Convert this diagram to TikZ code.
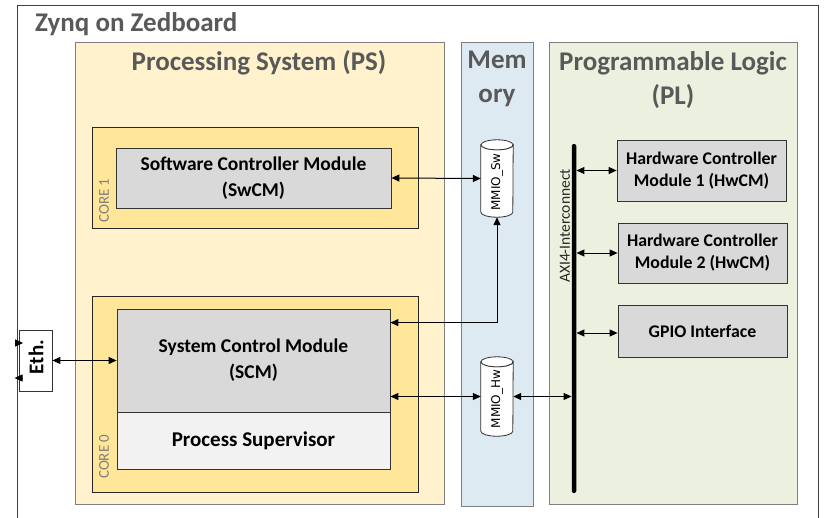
\documentclass[tikz,border=0pt]{standalone}
\usepackage{fontspec}
\setmainfont{Carlito}
\newfontfamily\dejavu{DejaVu Sans}
\usetikzlibrary{arrows.meta,calc}
\definecolor{titlegray}{HTML}{595959}
\definecolor{psfill}{HTML}{FFF2CC}
\definecolor{corefill}{HTML}{FFE699}
\definecolor{memfill}{HTML}{DEEAF1}
\definecolor{plfill}{HTML}{EBF1DE}
\definecolor{modfill}{HTML}{D9D9D9}
\definecolor{supfill}{HTML}{F2F2F2}
\definecolor{bordergray}{HTML}{7F7F7F}
\definecolor{labelgray}{HTML}{808080}
\begin{document}
\begin{tikzpicture}[x=1pt,y=-1pt,
  region/.style={draw=bordergray, line width=1pt, inner sep=0pt},
  corebox/.style={draw=black!85, fill=corefill, line width=0.8pt, inner sep=0pt},
  modbox/.style={draw=black!80, fill=modfill, line width=0.8pt, inner sep=0pt, align=center, font=\fontsize{19.5}{26}\selectfont\bfseries},
  hwbox/.style={draw=black!80, fill=modfill, line width=0.8pt, inner sep=0pt, align=center, font=\fontsize{17.8}{22}\selectfont\bfseries},
  bigtitle/.style={text=titlegray, font=\fontsize{27}{34}\selectfont\bfseries, inner sep=0pt, align=center},
  corelabel/.style={text=labelgray, font=\fontsize{15}{16}\selectfont, rotate=90, inner sep=0pt},
  cyltext/.style={font=\dejavu\fontsize{12}{13}\selectfont, rotate=90, inner sep=0pt},
  anchorbox/.style={inner sep=0pt, draw=none},
  biarrow/.style={{Triangle[length=8pt,width=7pt]}-{Triangle[length=8pt,width=7pt]}, line width=1pt},
  onearrow/.style={-{Triangle[length=8pt,width=7pt]}, line width=1pt}
]
\useasboundingbox (0,0) rectangle (824,517);
\fill[white] (0,0) rectangle (824,517);

% outer board
\draw[draw=black!75, line width=1pt] (17,5) rectangle (818,540);
\node[anchor=west, text=titlegray, font=\fontsize{27}{30}\selectfont\bfseries, inner sep=0pt] (board) at (35,24) {Zynq on Zedboard};

% regions
\node[region, fill=psfill, minimum width=369, minimum height=462] (ps) at (259.5,273) {};
\node[region, fill=memfill, minimum width=72, minimum height=464] (mem) at (497,274) {};
\node[region, fill=plfill, minimum width=248, minimum height=462] (pl) at (673,273) {};

\node[bigtitle] (pstitle) at (259,63) {Processing System (PS)};
\node[bigtitle] (memtitle) at (497,79) {Mem\\ory};
\node[bigtitle] (pltitle) at (673,80) {Programmable Logic\\(PL)};

% cores
\node[corebox, minimum width=326, minimum height=101] (core1) at (255,177.5) {};
\node[corebox, minimum width=326, minimum height=196] (core0) at (255,394) {};
\node[corelabel, anchor=west] (core1lbl) at (104,223) {CORE 1};
\node[corelabel, anchor=west] (core0lbl) at (104,479) {CORE 0};

% modules
\node[modbox, minimum width=275, minimum height=60] (swcm) at (253.5,178) {Software Controller Module\\(SwCM)};
\node[modbox, minimum width=273, minimum height=103] (scm) at (253.5,360.5) {System Control Module\\(SCM)};
\node[modbox, fill=supfill, minimum width=273, minimum height=57, font=\fontsize{21}{26}\selectfont\bfseries] (sup) at (253.5,440.5) {Process Supervisor};

\node[hwbox, minimum width=169, minimum height=61] (hw1) at (701.5,170.5) {Hardware Controller\\Module 1 (HwCM)};
\node[hwbox, minimum width=169, minimum height=60] (hw2) at (702.5,253) {Hardware Controller\\Module 2 (HwCM)};
\node[hwbox, minimum width=169, minimum height=52] (gpio) at (702.5,331) {GPIO Interface};

% AXI bar
\node[fill=black, rounded corners=2pt, minimum width=4.5, minimum height=349, inner sep=0pt] (bar) at (574,318.5) {};
\node[text=black!85, font=\fontsize{15.5}{17}\selectfont, rotate=90, inner sep=0pt, anchor=west] (axilbl) at (565,283) {AXI4-Interconnect};

% Eth
\node[draw=black!80, fill=white, line width=0.8pt, minimum width=33, minimum height=61, inner sep=0pt] (eth) at (35.5,360.5) {};
\node[font=\fontsize{21}{22}\selectfont\bfseries, rotate=90, inner sep=0pt] (ethlbl) at (36,357) {Eth.};

% cylinders
\node[anchorbox, minimum width=32, minimum height=77] (mmsw) at (497,178.5) {};
\node[anchorbox, minimum width=32, minimum height=79] (mmhw) at (497,396.5) {};
\foreach \c in {mmsw,mmhw}{
  \path[draw=black!80, fill=white, line width=0.8pt]
    ($(\c.north west)+(0,5)$) -- ($(\c.south west)+(0,-5)$)
    arc[start angle=180, end angle=0, x radius=16, y radius=5]
    -- ($(\c.north east)+(0,5)$)
    arc[start angle=0, end angle=180, x radius=16, y radius=5] -- cycle;
  \draw[draw=black!80, fill=white, line width=0.8pt] ($(\c.north)+(0,5)$) ellipse[x radius=16, y radius=5];
}
\node[cyltext] (mmswlbl) at (497,182) {MMIO\_Sw};
\node[cyltext] (mmhwlbl) at (497,399) {MMIO\_Hw};

% connectors
\draw[biarrow] (eth.east) -- (scm.west);
\draw[biarrow] (swcm.east) -- (mmsw.west);
\coordinate (scmup) at ($(scm.north east)+(0,14)$);
\draw[biarrow] (scmup) -| (mmsw.south);
\draw[biarrow] (scm.east |- mmhw.west) -- (mmhw.west);
\draw[biarrow] (mmhw.east) -- (mmhw.east -| bar.west);
\draw[biarrow] (bar.east |- hw1.west) -- (hw1.west);
\draw[biarrow] (bar.east |- hw2.west) -- (hw2.west);
\draw[biarrow] ($(bar.east |- gpio.west)+(0,2)$) -- ($(gpio.west)+(0,2)$);

% Eth external stubs
\coordinate (ethinA) at ($(eth.west)+(-4,-17.5)$);
\coordinate (ethinB) at ($(eth.west)+(4.5,-17.5)$);
\coordinate (ethoutA) at ($(eth.west)+(4.5,17.5)$);
\coordinate (ethoutB) at ($(eth.west)+(-4,17.5)$);
\draw[onearrow] (ethinA) -- (ethinB);
\draw[onearrow] (ethoutA) -- (ethoutB);
\end{tikzpicture}
\end{document}
